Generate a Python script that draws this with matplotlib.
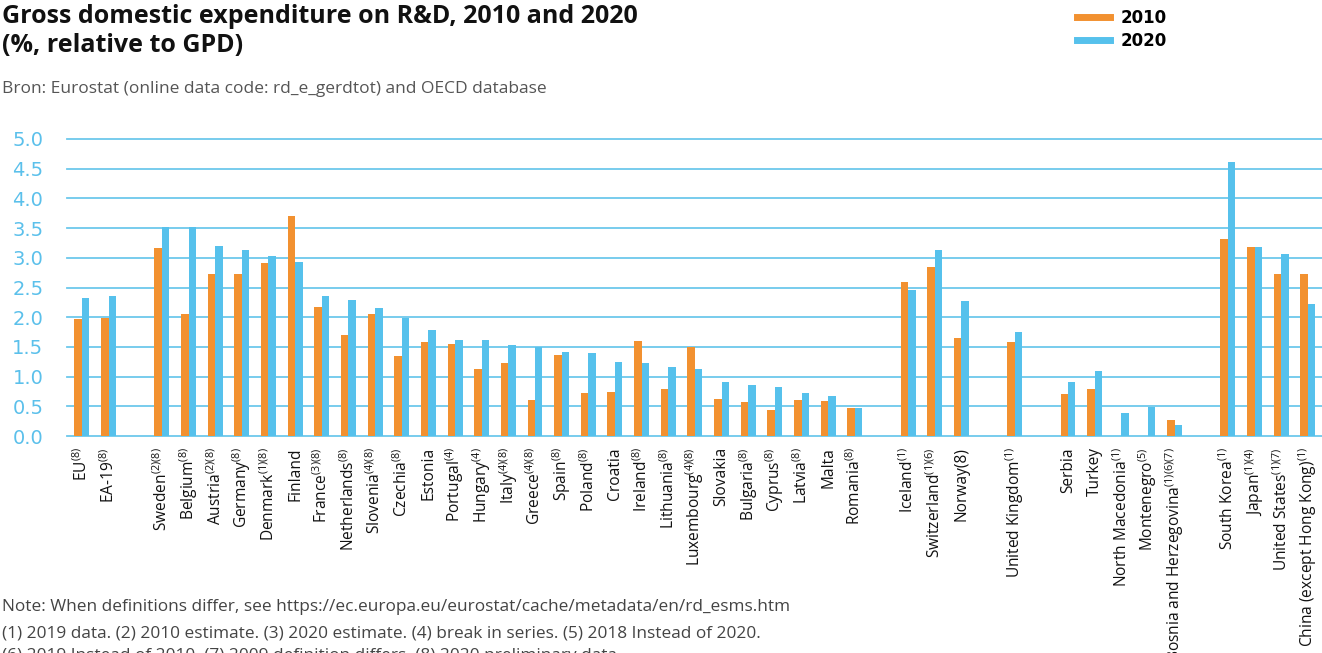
import numpy as np
import matplotlib
matplotlib.use("Agg")
import matplotlib.pyplot as plt
from matplotlib.lines import Line2D

# ---------------- data ----------------
countries = ["EU", "EA-19", "", "Sweden", "Belgium", "Austria", "Germany", "Denmark",
             "Finland", "France", "Netherlands", "Slovenia", "Czechia", "Estonia",
             "Portugal", "Hungary", "Italy", "Greece", "Spain", "Poland", "Croatia",
             "Ireland", "Lithuania", "Luxembourg", "Slovakia", "Bulgaria", "Cyprus",
             "Latvia", "Malta", "Romania", "", "Iceland", "Switzerland", "Norway(8)", "",
             "United Kingdom", "", "Serbia", "Turkey", "North Macedonia", "Montenegro",
             "Bosnia and Herzegovina", "", "South Korea", "Japan", "United States",
             "China (except Hong Kong)"]
footnotes = ["(8)", "(8)", "", "(2)(8)", "(8)", "(2)(8)", "(8)", "(1)(8)",
             "", "(3)(8)", "(8)", "(4)(8)", "(8)", "",
             "(4)", "(4)", "(4)(8)", "(4)(8)", "(8)", "(8)", "",
             "(8)", "(8)", "(4)(8)", "", "(8)", "(8)",
             "(8)", "", "(8)", "", "(1)", "(1)(6)", "", "",
             "(1)", "", "", "", "(1)", "(5)",
             "(1)(6)(7)", "", "(1)", "(1)(4)", "(1)(7)",
             "(1)"]
v2010 = [1.97, 1.99, np.nan, 3.17, 2.05, 2.73, 2.73, 2.91,
         3.70, 2.17, 1.70, 2.05, 1.34, 1.58,
         1.55, 1.13, 1.23, 0.61, 1.36, 0.72, 0.74,
         1.60, 0.79, 1.50, 0.62, 0.57, 0.44,
         0.61, 0.59, 0.47, np.nan, 2.59, 2.84, 1.65, np.nan,
         1.58, np.nan, 0.71, 0.79, np.nan, np.nan,
         0.27, np.nan, 3.32, 3.18, 2.73,
         2.73]
v2020 = [2.32, 2.36, np.nan, 3.52, 3.52, 3.20, 3.13, 3.03,
         2.93, 2.36, 2.29, 2.15, 1.99, 1.79,
         1.62, 1.62, 1.53, 1.49, 1.41, 1.39, 1.24,
         1.23, 1.16, 1.13, 0.91, 0.86, 0.82,
         0.72, 0.67, 0.47, np.nan, 2.46, 3.13, 2.27, np.nan,
         1.75, np.nan, 0.91, 1.09, 0.39, 0.49,
         0.19, np.nan, 4.61, 3.18, 3.07,
         2.22]
series_names = ["2010", "2020"]
yticks = [0.0, 0.5, 1.0, 1.5, 2.0, 2.5, 3.0, 3.5, 4.0, 4.5, 5.0]

title = "Gross domestic expenditure on R&D, 2010 and 2020\n(%, relative to GPD)"
source = "Bron: Eurostat (online data code: rd_e_gerdtot) and OECD database"
notes = ["Note: When definitions differ, see https://ec.europa.eu/eurostat/cache/metadata/en/rd_esms.htm",
         "(1) 2019 data. (2) 2010 estimate. (3) 2020 estimate. (4) break in series. (5) 2018 Instead of 2020.",
         "(6) 2019 Instead of 2010. (7) 2009 definition differs. (8) 2020 preliminary data."]

# ---------------- style ----------------
ORANGE = "#F29130"
BLUE = "#56C1EC"
GRID = "#6DC8EC"
FONT = "Open Sans"
WIDE = "DejaVu Sans"
plt.rcParams["font.family"] = [FONT, "DejaVu Sans"]
plt.rcParams["mathtext.fontset"] = "custom"
plt.rcParams["mathtext.rm"] = FONT
plt.rcParams["mathtext.it"] = FONT
plt.rcParams["mathtext.bf"] = FONT

fig = plt.figure(figsize=(13.22, 6.53), dpi=100)
ax = fig.add_axes([67 / 1322, 1 - 436 / 653, 1 - 67 / 1322, (436 - 139) / 653])

x = np.arange(len(countries))
w = 0.28
ax.bar(x - w / 2, v2010, width=w, color=ORANGE, zorder=3)
ax.bar(x + w / 2, v2020, width=w, color=BLUE, zorder=3)

ax.set_xlim(-0.56, len(countries) - 1 + 0.53)
ax.set_ylim(0, 5.0)
ax.set_yticks(yticks)
ax.set_yticklabels([f"{t:.1f}" for t in yticks], color="#5BC0EB",
                   fontsize=14, family=WIDE)
for t in yticks:
    ax.axhline(t, color=GRID, lw=1.3, zorder=1, clip_on=False)

labels = []
for c, f in zip(countries, footnotes):
    if f:
        labels.append(c + r"$^{\mathrm{" + f + "}}$")
    else:
        labels.append(c)
ax.set_xticks(x)
ax.set_xticklabels(labels, rotation=90, va="top", ha="center", fontsize=11.2, color="#111111")
ax.tick_params(axis="both", length=0)
ax.tick_params(axis="x", pad=8)
ax.tick_params(axis="y", pad=17)
for s in ax.spines.values():
    s.set_visible(False)

# title & texts
fig.text(2 / 1322, 1 - 4 / 653, title, ha="left", va="top", fontsize=18,
         fontweight="bold", color="#111111", linespacing=1.2)
fig.text(2 / 1322, 1 - 89 / 653, source, ha="left", va="center", fontsize=12.5,
         color="#555555")
for i, (n, yy) in enumerate(zip(notes, [607, 633, 656])):
    fig.text(2 / 1322, 1 - yy / 653, n, ha="left", va="center", fontsize=12.4,
             color="#444444")

handles = [Line2D([0], [0], color=ORANGE, lw=5), Line2D([0], [0], color=BLUE, lw=5)]
fig.legend(handles, series_names, loc="upper left", bbox_to_anchor=(1077 / 1322, 1 - 9 / 653),
           frameon=False, handlelength=2.0, handletextpad=0.6, borderpad=0,
           borderaxespad=0, labelspacing=0.3,
           prop={"family": WIDE, "size": 12, "weight": "bold"})

fig.savefig("out.png", dpi=100)
